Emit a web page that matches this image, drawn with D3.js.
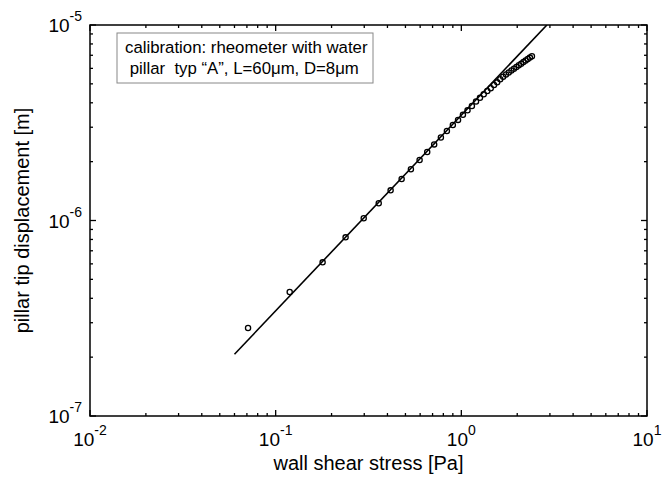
<!DOCTYPE html>
<html><head><meta charset="utf-8">
<script src="https://cdn.jsdelivr.net/npm/d3@7"></script>
<style>body{margin:0;background:#fff}svg{display:block}text{font-family:"Liberation Sans",Arial,sans-serif;fill:#000}</style>
</head><body><svg id="c" width="670" height="481"></svg>
<script>
// Data: wall shear stress [Pa] and pillar tip displacement [m]
const stress = [0.071,0.119,0.179,0.238,0.298,0.359,0.416,0.477,0.535,0.596,0.655,0.714,0.776,0.836,
  0.90,0.96,1.02,1.08,1.14,1.20,1.26,1.32,1.38,1.44,1.50,1.56,1.62,1.68,
  1.74,1.80,1.86,1.92,1.98,2.04,2.10,2.16,2.22,2.28,2.34,2.40];
const displacement = [2.82e-7,4.31e-7,6.11e-7,8.20e-7,1.026e-6,1.225e-6,1.426e-6,1.63e-6,1.83e-6,2.04e-6,2.24e-6,2.45e-6,2.66e-6,2.87e-6,
  3.08e-6,3.27e-6,3.47e-6,3.66e-6,3.85e-6,4.06e-6,4.24e-6,4.42e-6,4.60e-6,4.75e-6,4.93e-6,5.09e-6,5.28e-6,5.44e-6,
  5.58e-6,5.72e-6,5.85e-6,5.98e-6,6.10e-6,6.22e-6,6.34e-6,6.46e-6,6.58e-6,6.70e-6,6.81e-6,6.92e-6];
// Calibration fit line endpoints
const fitStress = [0.06, 2.89];
const fitDisp = [2.07e-7, 1.0e-5];
// Tick labels
const xTickExps = [-2,-1,0,1];
const yTickExps = [-7,-6,-5];
const legendLines = ["calibration: rheometer with water", " pillar  typ \u201cA\u201d, L=60\u03bcm, D=8\u03bcm"];
const xTitle = "wall shear stress [Pa]";
const yTitle = "pillar tip displacement [m]";

const L=90,R=647,T=25,B=416;
const svg=d3.select("#c");
const x=d3.scaleLog().domain([1e-2,1e1]).range([L,R]);
const y=d3.scaleLog().domain([1e-7,1e-5]).range([B,T]);

// ticks
const majorX=xTickExps.map(e=>Math.pow(10,e));
const minorX=[];for(let e=-2;e<1;e++)for(let k=2;k<10;k++)minorX.push(k*Math.pow(10,e));
const majorY=yTickExps.map(e=>Math.pow(10,e));
const minorY=[];for(let e=-7;e<-5;e++)for(let k=2;k<10;k++)minorY.push(k*Math.pow(10,e));

const axG=svg.append("g").attr("stroke","#000").attr("stroke-width",1.3);
function tk(vals,len,scale,horiz){
  vals.forEach(v=>{
    const p=scale(v);
    if(horiz){
      axG.append("line").attr("x1",p).attr("x2",p).attr("y1",B).attr("y2",B-len);
      axG.append("line").attr("x1",p).attr("x2",p).attr("y1",T).attr("y2",T+len);
    } else {
      axG.append("line").attr("y1",p).attr("y2",p).attr("x1",L).attr("x2",L+len);
      axG.append("line").attr("y1",p).attr("y2",p).attr("x1",R).attr("x2",R-len);
    }
  });
}
tk(majorX,6,x,true);tk(minorX,3,x,true);tk(majorY,6,y,false);tk(minorY,3,y,false);
svg.append("rect").attr("x",L).attr("y",T).attr("width",R-L).attr("height",B-T)
  .attr("fill","none").attr("stroke","#000").attr("stroke-width",1.5);

// tick labels
xTickExps.forEach(e=>{
  const t=svg.append("text").attr("x",x(Math.pow(10,e))).attr("y",446).attr("text-anchor","middle").attr("font-size",19);
  t.append("tspan").text("10");
  t.append("tspan").attr("dy",-11).attr("font-size",14).text(e);
});
yTickExps.forEach(e=>{
  const t=svg.append("text").attr("x",82).attr("y",y(Math.pow(10,e))+7).attr("text-anchor","end").attr("font-size",19);
  t.append("tspan").text("10");
  t.append("tspan").attr("dy",-11).attr("font-size",14).text(e);
});

// titles
svg.append("text").attr("x",(L+R)/2).attr("y",470).attr("text-anchor","middle").attr("font-size",20).text(xTitle);
svg.append("text").attr("transform",`translate(29,${(T+B)/2}) rotate(-90)`).attr("text-anchor","middle").attr("font-size",20).text(yTitle);

// clip
svg.append("clipPath").attr("id","cp").append("rect").attr("x",L).attr("y",T).attr("width",R-L).attr("height",B-T);
const plot=svg.append("g").attr("clip-path","url(#cp)");
plot.append("path").datum(fitStress.map((s,i)=>[s,fitDisp[i]]))
  .attr("d",d3.line().x(d=>x(d[0])).y(d=>y(d[1])))
  .attr("fill","none").attr("stroke","#000").attr("stroke-width",1.6);
plot.selectAll("circle").data(stress.map((s,i)=>[s,displacement[i]])).join("circle")
  .attr("cx",d=>x(d[0])).attr("cy",d=>y(d[1])).attr("r",2.6)
  .attr("fill","none").attr("stroke","#000").attr("stroke-width",1.3);

// legend
svg.append("rect").attr("x",117).attr("y",33).attr("width",256).attr("height",50)
  .attr("fill","#fff").attr("stroke","#888").attr("stroke-width",1);
legendLines.forEach((s,i)=>{
  svg.append("text").attr("x",125).attr("y",53+i*21).attr("font-size",16.8).style("white-space","pre").text(s);
});
</script></body></html>
